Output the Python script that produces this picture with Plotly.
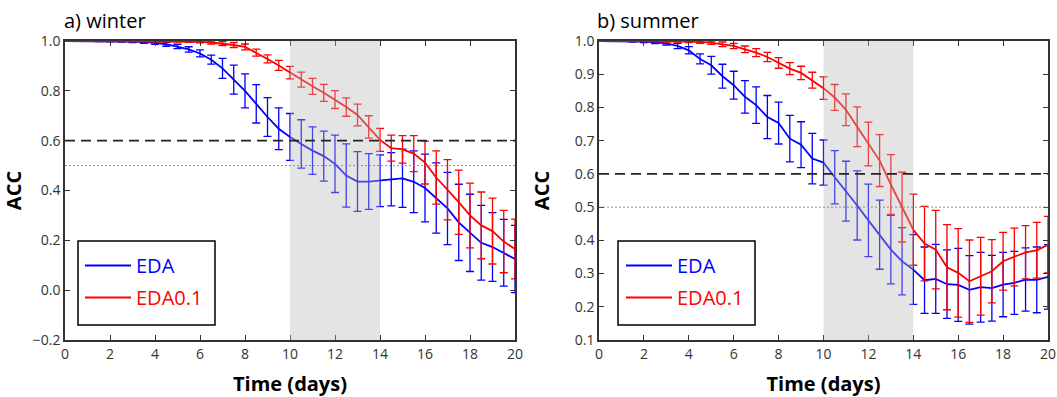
import plotly.graph_objects as go

# ---------------- data ----------------
days = [0, 0.5, 1, 1.5, 2, 2.5, 3, 3.5, 4, 4.5, 5, 5.5, 6, 6.5, 7, 7.5, 8, 8.5, 9, 9.5,
        10, 10.5, 11, 11.5, 12, 12.5, 13, 13.5, 14, 14.5, 15, 15.5, 16, 16.5, 17, 17.5,
        18, 18.5, 19, 19.5, 20]

winter_eda = [1.0, 1.0, 1.0, 1.0, 0.999, 0.999, 0.998, 0.996, 0.993, 0.987, 0.978, 0.966,
              0.95, 0.925, 0.89, 0.845, 0.80, 0.748, 0.695, 0.648, 0.615, 0.587, 0.56, 0.538,
              0.507, 0.46, 0.436, 0.436, 0.439, 0.445, 0.449, 0.435, 0.41, 0.37, 0.328, 0.272,
              0.23, 0.19, 0.173, 0.15, 0.125]
winter_eda_err = [0.0, 0.001, 0.001, 0.002, 0.002, 0.003, 0.004, 0.005, 0.006, 0.008, 0.009,
                  0.011, 0.014, 0.018, 0.04, 0.058, 0.068, 0.077, 0.078, 0.084, 0.094, 0.097,
                  0.095, 0.1, 0.115, 0.127, 0.12, 0.112, 0.104, 0.107, 0.117, 0.124, 0.136,
                  0.141, 0.145, 0.153, 0.155, 0.15, 0.138, 0.134, 0.135]
winter_eda01 = [1.0, 1.0, 1.0, 1.0, 1.0, 1.0, 1.0, 1.0, 1.0, 1.0, 0.999, 0.998, 0.997, 0.994,
                0.99, 0.984, 0.976, 0.953, 0.928, 0.902, 0.873, 0.845, 0.818, 0.792, 0.765,
                0.735, 0.703, 0.655, 0.603, 0.57, 0.565, 0.548, 0.512, 0.452, 0.403, 0.353,
                0.30, 0.26, 0.237, 0.195, 0.165]
winter_eda01_err = [0.0, 0.0, 0.0, 0.001, 0.001, 0.001, 0.001, 0.001, 0.002, 0.002, 0.002,
                    0.003, 0.004, 0.006, 0.008, 0.01, 0.012, 0.014, 0.016, 0.02, 0.025, 0.03,
                    0.032, 0.034, 0.036, 0.037, 0.044, 0.045, 0.046, 0.052, 0.055, 0.072,
                    0.086, 0.107, 0.121, 0.129, 0.13, 0.134, 0.132, 0.125, 0.12]

summer_eda = [1.0, 1.0, 1.0, 0.999, 0.998, 0.996, 0.993, 0.985, 0.972, 0.946, 0.927, 0.894,
              0.867, 0.832, 0.807, 0.771, 0.753, 0.706, 0.688, 0.646, 0.634, 0.59, 0.548,
              0.505, 0.46, 0.417, 0.372, 0.337, 0.312, 0.28, 0.284, 0.268, 0.266, 0.251,
              0.259, 0.256, 0.267, 0.272, 0.282, 0.281, 0.29]
summer_eda_err = [0.0, 0.001, 0.001, 0.002, 0.003, 0.004, 0.005, 0.008, 0.011, 0.015, 0.027,
                  0.036, 0.042, 0.049, 0.055, 0.065, 0.063, 0.07, 0.069, 0.076, 0.068, 0.08,
                  0.09, 0.104, 0.109, 0.104, 0.103, 0.101, 0.105, 0.1, 0.104, 0.103, 0.11,
                  0.103, 0.105, 0.099, 0.097, 0.095, 0.095, 0.099, 0.097]
summer_eda01 = [1.0, 1.0, 1.0, 1.0, 1.0, 1.0, 0.999, 0.999, 0.998, 0.997, 0.995, 0.99, 0.985,
                0.975, 0.965, 0.952, 0.934, 0.917, 0.904, 0.882, 0.858, 0.83, 0.793, 0.742,
                0.69, 0.64, 0.568, 0.5, 0.432, 0.39, 0.372, 0.319, 0.302, 0.277, 0.292, 0.307,
                0.337, 0.35, 0.364, 0.37, 0.387]
summer_eda01_err = [0.001, 0.001, 0.001, 0.001, 0.001, 0.001, 0.002, 0.002, 0.003, 0.004,
                    0.005, 0.007, 0.008, 0.01, 0.012, 0.014, 0.016, 0.018, 0.02, 0.024, 0.034,
                    0.039, 0.048, 0.06, 0.066, 0.078, 0.09, 0.105, 0.107, 0.112, 0.118, 0.128,
                    0.133, 0.124, 0.117, 0.095, 0.087, 0.087, 0.08, 0.084, 0.085]

panel_titles = ["a) winter", "b) summer"]
series_names = ["EDA", "EDA0.1"]
shade_days = [10, 14]
thresholds = [0.6, 0.5]

# ---------------- styling ----------------
W, H = 1057, 397
BLUE = "#0000ff"
RED = "#ff0000"
FONT = "Open Sans"
AX = "#333333"


def px_x(p):
    return p / W


def px_y(p):
    return (H - p) / H


fig = go.Figure()

panels = [
    ("x", "y", winter_eda, winter_eda_err, winter_eda01, winter_eda01_err, "legend"),
    ("x2", "y2", summer_eda, summer_eda_err, summer_eda01, summer_eda01_err, "legend2"),
]

for xa, ya, b, be, r, re_, lg in panels:
    for vals, err, col, name in [(b, be, BLUE, series_names[0]), (r, re_, RED, series_names[1])]:
        fig.add_trace(go.Scatter(
            x=days, y=vals, xaxis=xa, yaxis=ya, mode="lines",
            line=dict(color=col, width=1.8),
            error_y=dict(type="data", array=err, visible=True, color=col,
                         thickness=1.3, width=4),
            name=f"<span style='color:{col}'>{name}</span>",
            legend=lg, legendgroup=name + lg, showlegend=True,
        ))

# domains in pixels
left_dom = [px_x(65), px_x(515)]
right_dom = [px_x(599), px_x(1048)]
y_dom = [px_y(340), px_y(41)]

axis_common = dict(
    showgrid=False, zeroline=False, showline=True, linecolor=AX, linewidth=1.5,
    mirror="ticks", ticks="inside", ticklen=5, tickwidth=1.2, tickcolor=AX,
    automargin=False, ticklabeloverflow="allow",
    tickfont=dict(family=FONT, size=14, color="#333333"),
)
title_font = dict(family=FONT, size=20, color="black")

fig.update_layout(
    template="none",
    width=W, height=H,
    margin=dict(l=0, r=0, t=0, b=0, autoexpand=False),
    paper_bgcolor="white", plot_bgcolor="white",
    xaxis=dict(domain=left_dom, anchor="y", range=[0, 20], dtick=2, tick0=0,
               title=dict(text="<b>Time (days)</b>", font=title_font), **axis_common),
    yaxis=dict(domain=y_dom, anchor="x", range=[-0.2, 1.0], dtick=0.2, tick0=0,
               tickformat=".1f", title=dict(text="<b>ACC</b>", font=title_font), **axis_common),
    xaxis2=dict(domain=right_dom, anchor="y2", range=[0, 20], dtick=2, tick0=0,
                title=dict(text="<b>Time (days)</b>", font=title_font), **axis_common),
    yaxis2=dict(domain=y_dom, anchor="x2", range=[0.1, 1.0], dtick=0.1, tick0=0,
                tickformat=".1f", title=dict(text="<b>ACC</b>", font=title_font), **axis_common),
    legend=dict(x=px_x(80), y=px_y(246), xanchor="left", yanchor="top",
                bgcolor="rgba(0,0,0,0)", borderwidth=0,
                font=dict(family=FONT, size=20), tracegroupgap=3, itemwidth=46),
    legend2=dict(x=px_x(621), y=px_y(246), xanchor="left", yanchor="top",
                 bgcolor="rgba(0,0,0,0)", borderwidth=0,
                 font=dict(family=FONT, size=20), tracegroupgap=3, itemwidth=46),
    showlegend=True,
)

shapes = []
for xa, ya, lx0 in [("x", "y", 78), ("x2", "y2", 618)]:
    # shaded window
    shapes.append(dict(type="rect", xref=xa, yref=f"{ya} domain", x0=shade_days[0], x1=shade_days[1],
                       y0=0, y1=1, fillcolor="rgba(185,185,185,0.38)", line=dict(width=0),
                       layer="above"))
    # thresholds
    shapes.append(dict(type="line", xref=f"{xa} domain", yref=ya, x0=0, x1=1,
                       y0=thresholds[0], y1=thresholds[0],
                       line=dict(color="#222222", width=1.8, dash="10px,6px"), layer="above"))
    shapes.append(dict(type="line", xref=f"{xa} domain", yref=ya, x0=0, x1=1,
                       y0=thresholds[1], y1=thresholds[1],
                       line=dict(color="#8c8c8c", width=1, dash="2px,2px"), layer="above"))
    # legend frame
    shapes.append(dict(type="rect", xref="paper", yref="paper",
                       x0=px_x(lx0), x1=px_x(lx0 + 137), y0=px_y(325), y1=px_y(241),
                       line=dict(color="black", width=1.5), fillcolor="rgba(0,0,0,0)",
                       layer="above"))
fig.update_layout(shapes=shapes)

for title, x0 in zip(panel_titles, [62, 595]):
    fig.add_annotation(text=title, xref="paper", yref="paper", x=px_x(x0), y=px_y(20),
                       xanchor="left", yanchor="middle", showarrow=False,
                       font=dict(family=FONT, size=20, color="black"))

fig.write_html("out.html")
